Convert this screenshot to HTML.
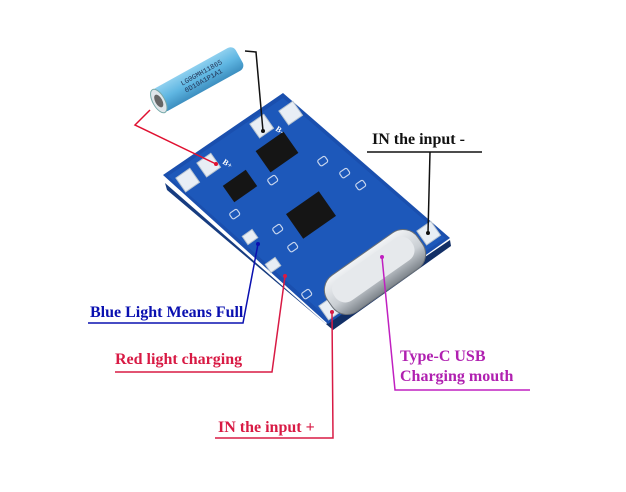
<!DOCTYPE html>
<html><head><style>
body{margin:0;background:#fff;width:626px;height:487px;overflow:hidden}
svg text{font-family:"Liberation Serif",serif;font-weight:bold;font-size:16px}
</style></head><body>
<svg width="626" height="487" viewBox="0 0 626 487">
<defs>
<linearGradient id="bat" x1="0" y1="0" x2="0" y2="1">
<stop offset="0" stop-color="#8fd0ef"/><stop offset="0.5" stop-color="#5fb6e2"/><stop offset="1" stop-color="#3d8fc0"/></linearGradient>
<linearGradient id="usb" x1="0" y1="0" x2="0" y2="1">
<stop offset="0" stop-color="#f2f4f6"/><stop offset="0.6" stop-color="#c9ced3"/><stop offset="1" stop-color="#7d848b"/></linearGradient>
</defs>
<!-- battery -->
<g transform="translate(157,102) rotate(-29)">
<rect x="0" y="-13" width="94" height="26" rx="6" fill="url(#bat)"/>
<ellipse cx="2" cy="0" rx="6" ry="13" fill="#dfe6ea" stroke="#7aa" stroke-width="1"/>
<ellipse cx="2" cy="0" rx="3.5" ry="7" fill="#666"/>
<text x="30" y="-2" style="font-size:7px;font-family:'Liberation Mono',monospace;font-weight:normal" fill="#235">LG0GMH11865</text>
<text x="30" y="6" style="font-size:7px;font-family:'Liberation Mono',monospace;font-weight:normal" fill="#235">0D19A1P1A1</text>
</g>
<!-- board -->
<polygon points="165,183 326,324 333,330 167,190" fill="#173c80"/>
<polygon points="326,324 450,240 451,246 333,330" fill="#122f66"/>
<polygon points="163,175 283,93 450,238 328,324" fill="#1a4fae"/>
<polygon points="168,176 283,98 445,238 328,318" fill="#1d58ba"/>
<!-- silkscreen lines -->
<g fill="none" stroke="#c8d6ee" stroke-width="1.2">
<rect x="283" y="150" width="9" height="7" rx="2" transform="rotate(-35 287 153)"/>
<rect x="318" y="158" width="9" height="7" rx="2" transform="rotate(-35 322 161)"/>
<rect x="340" y="170" width="9" height="7" rx="2" transform="rotate(-35 344 173)"/>
<rect x="356" y="182" width="9" height="7" rx="2" transform="rotate(-35 360 185)"/>
<rect x="230" y="211" width="9" height="7" rx="2" transform="rotate(-35 234 214)"/>
<rect x="273" y="226" width="9" height="7" rx="2" transform="rotate(-35 277 229)"/>
<rect x="288" y="244" width="9" height="7" rx="2" transform="rotate(-35 292 247)"/>
<rect x="302" y="291" width="9" height="7" rx="2" transform="rotate(-35 306 294)"/>
<rect x="268" y="177" width="9" height="7" rx="2" transform="rotate(-35 272 180)"/>
</g>
<!-- pads -->
<g fill="#e8eef5" stroke="#b8c4d0">
<rect x="253" y="118" width="17" height="17" transform="rotate(-35 261 126)"/>
<rect x="282" y="105" width="17" height="17" transform="rotate(-35 290 113)"/>
<rect x="200" y="157" width="17" height="17" transform="rotate(-35 208 165)"/>
<rect x="179" y="172" width="17" height="17" transform="rotate(-35 187 180)"/>
<rect x="420" y="225" width="17" height="17" transform="rotate(-35 428 233)"/>
<rect x="322" y="300" width="17" height="17" transform="rotate(-35 330 308)"/>
<rect x="244" y="232" width="12" height="10" transform="rotate(-35 250 237)"/>
<rect x="267" y="260" width="12" height="10" transform="rotate(-35 273 265)"/>
</g>
<!-- chips -->
<rect x="260" y="139" width="34" height="26" fill="#151515" transform="rotate(-35 277 152)"/>
<rect x="226" y="176" width="28" height="20" fill="#151515" transform="rotate(-35 240 186)"/>
<rect x="291" y="200" width="40" height="30" fill="#151515" transform="rotate(-35 311 215)"/>
<!-- usb-c -->
<g transform="rotate(-35 375 272)">
<rect x="320" y="250" width="110" height="44" rx="18" fill="url(#usb)" stroke="#6a7076"/>
<rect x="328" y="256" width="94" height="26" rx="12" fill="#e6e9ec"/>
</g>
<g fill="#fff">
<text x="222" y="163" style="font-size:8px" transform="rotate(35 222 163)">B+</text>
<text x="275" y="130" style="font-size:8px" transform="rotate(35 275 130)">B-</text>
</g>
<!-- connectors -->
<g fill="none" stroke-width="1.5">
<polyline points="245,51 256,52 263,131" stroke="#111"/>
<polyline points="150,110 135,125 216,164" stroke="#e01030"/>
<polyline points="367,152 482,152" stroke="#111"/>
<polyline points="430,152 428,233" stroke="#111"/>
<polyline points="88,323 243,323 258,244" stroke="#0a10b0"/>
<polyline points="115,372 272,372 285,276" stroke="#d81a44"/>
<polyline points="215,438 333,438 332,312" stroke="#d81a44"/>
<polyline points="530,390 395,390 382,257" stroke="#c020c0"/>
</g>
<g fill="#111"><circle cx="263" cy="131" r="2"/><circle cx="428" cy="233" r="2"/></g>
<circle cx="216" cy="164" r="2" fill="#e01030"/>
<circle cx="258" cy="244" r="2" fill="#0a10b0"/>
<circle cx="285" cy="276" r="2" fill="#d81a44"/>
<circle cx="332" cy="312" r="2" fill="#d81a44"/>
<circle cx="382" cy="257" r="2" fill="#c020c0"/>
<text x="372" y="144" fill="#111">IN the input -</text>
<text x="90" y="317" fill="#0a10b0">Blue Light Means Full</text>
<text x="115" y="364" fill="#d81a44">Red light charging</text>
<text x="218" y="432" fill="#d81a44">IN the input +</text>
<text x="400" y="361" fill="#b020b0">Type-C USB</text>
<text x="400" y="381" fill="#b020b0">Charging mouth</text>
</svg>
</body></html>
